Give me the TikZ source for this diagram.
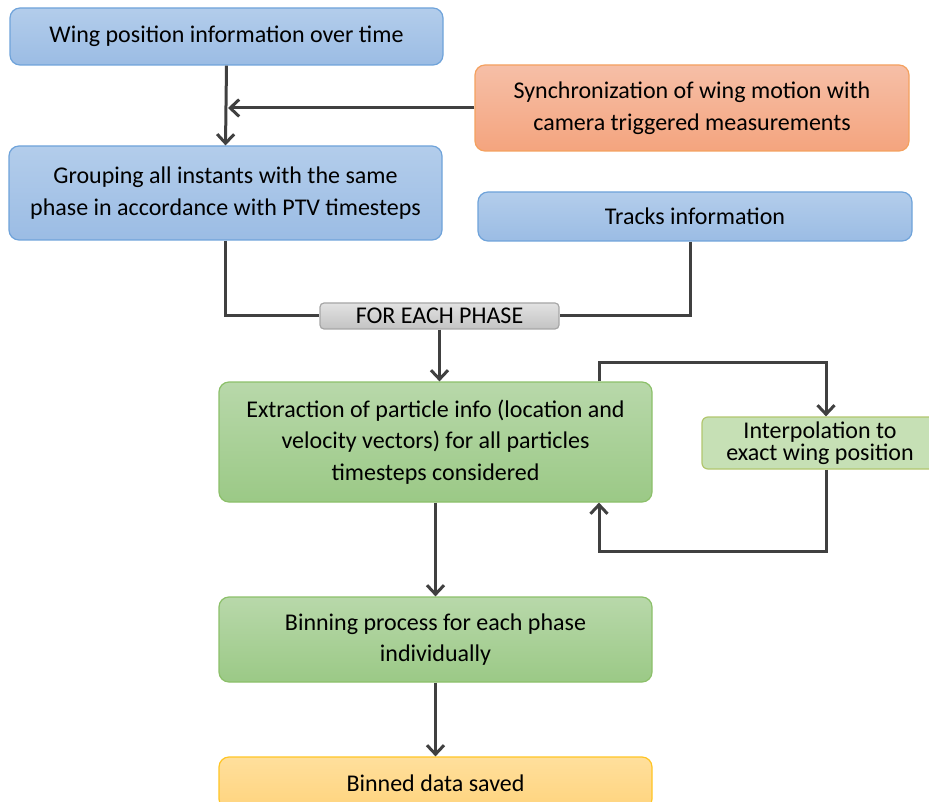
\documentclass[tikz,border=0pt]{standalone}
\usepackage{fontspec}
\setmainfont{Carlito}
\usetikzlibrary{arrows.meta}
\definecolor{lineC}{HTML}{404040}
\definecolor{blueT}{HTML}{B3CDEB}
\definecolor{blueB}{HTML}{9BBCE4}
\definecolor{blueD}{HTML}{6FA3DA}
\definecolor{orT}{HTML}{F6BFA7}
\definecolor{orB}{HTML}{F4A47E}
\definecolor{orD}{HTML}{F4A15F}
\definecolor{grT}{HTML}{B8D8AA}
\definecolor{grB}{HTML}{9BC986}
\definecolor{grD}{HTML}{8CC06A}
\definecolor{ltG}{HTML}{C6E0B5}
\definecolor{ltGD}{HTML}{B2C66E}
\definecolor{yeT}{HTML}{FFDF9C}
\definecolor{yeB}{HTML}{FFD47E}
\definecolor{yeD}{HTML}{FFC525}
\definecolor{gyT}{HTML}{E2E2E2}
\definecolor{gyB}{HTML}{C3C3C3}
\definecolor{gyD}{HTML}{A6A6A6}
\tikzset{
  box/.style={rounded corners=10pt, line width=1.2pt, align=center,
    inner sep=0pt, font=\fontsize{24}{31.5}\selectfont, text=black},
  bluebox/.style={box, draw=blueD, top color=blueT, bottom color=blueB},
  orangebox/.style={box, draw=orD, top color=orT, bottom color=orB},
  greenbox/.style={box, draw=grD, top color=grT, bottom color=grB},
  paleGbox/.style={box, rounded corners=6pt, draw=ltGD, fill=ltG,
    font=\fontsize{24}{22.5}\selectfont},
  yellowbox/.style={box, draw=yeD, top color=yeT, bottom color=yeB},
  graybox/.style={box, rounded corners=4pt, draw=gyD, top color=gyT, bottom color=gyB},
  link/.style={draw=lineC, line width=3pt},
  arr/.style={link, -{Straight Barb[length=9pt, width=17pt, line width=3pt]}},
}
\begin{document}
\begin{tikzpicture}[x=1pt, y=-1pt]
\useasboundingbox (0,0) rectangle (929,802);
\clip (0,0) rectangle (929,802);

% process boxes
\node[bluebox, minimum width=433pt, minimum height=57pt] (wing) at (226.5,36.5)
  {Wing position information over time};
\node[orangebox, minimum width=434pt, minimum height=86pt] (sync) at (692,108)
  {Synchronization of wing motion with\\camera triggered measurements};
\node[bluebox, minimum width=433pt, minimum height=94pt] (group) at (225.5,193)
  {Grouping all instants with the same\\phase in accordance with PTV timesteps};
\node[bluebox, minimum width=434pt, minimum height=49pt] (tracks) at (695,216.5)
  {Tracks information};
\node[graybox, minimum width=239pt, minimum height=26pt] (phase) at (439.5,316)
  {FOR EACH PHASE};
\node[greenbox, minimum width=433pt, minimum height=120pt] (extract) at (435.5,442)
  {Extraction of particle info (location and\\velocity vectors) for all particles\\timesteps considered};
\node[paleGbox, minimum width=236pt, minimum height=52pt] (interp) at (820,443)
  {Interpolation to\\exact wing position};
\node[greenbox, minimum width=433pt, minimum height=85pt] (binning) at (435.5,639.5)
  {Binning process for each phase\\individually};
\node[yellowbox, minimum width=433pt, minimum height=52pt] (saved) at (435.5,783)
  {Binned data saved};

% corner points of the interpolation loop
\coordinate (loopA) at (599,362);
\coordinate (loopB) at (826,551);

% connectors
\draw[arr] (wing.south) -- (group.north);
\draw[arr] (sync.west) -- ([xshift=1.5pt]sync.west -| wing.south);
\draw[link] (group.south) |- (phase.west);
\draw[link] ([xshift=-5pt]tracks.south) |- (phase.east);
\draw[arr] (phase.south) -- (phase.south |- extract.north);
\draw[arr] (extract.north -| loopA) -- (loopA) -| (interp.north -| loopB);
\draw[arr] (interp.south -| loopB) -- (loopB) -| (extract.south -| loopA);
\draw[arr] (extract.south) -- (binning.north);
\draw[arr] (binning.south) -- (saved.north);
\end{tikzpicture}
\end{document}
